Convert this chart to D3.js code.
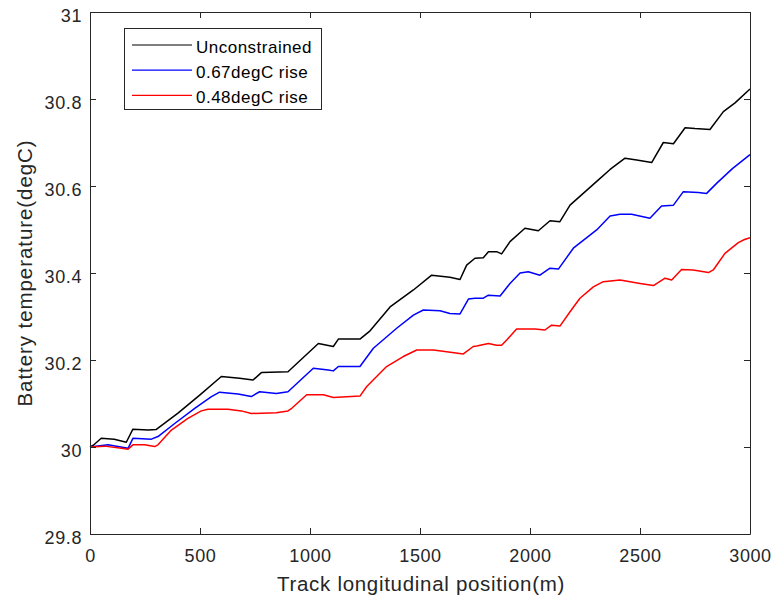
<!DOCTYPE html>
<html><head><meta charset="utf-8">
<script src="https://cdn.jsdelivr.net/npm/d3@7"></script>
<style>body{margin:0;background:#fff}svg{display:block}</style>
</head><body><svg id="c" width="775" height="601"></svg>
<script>
const xTicks=[0,500,1000,1500,2000,2500,3000];
const yTicks=[29.8,30,30.2,30.4,30.6,30.8,31];
const seriesNames=["Unconstrained","0.67degC rise","0.48degC rise"];
const seriesColors=["#000000","#0000ff","#ff0000"];
const posUnc=[0,15,51,110,165,195,264,300,400,500,597,680,741,779,900,1038,1106,1129,1227,1273,1364,1470,1553,1636,1682,1712,1750,1788,1811,1848,1871,1909,1977,2038,2091,2136,2182,2311,2364,2432,2485,2553,2606,2652,2705,2750,2818,2879,2932,3000];
const tempUnc=[30.0,30.004,30.02,30.018,30.011,30.041,30.039,30.04,30.078,30.12,30.162,30.158,30.154,30.171,30.173,30.238,30.231,30.248,30.248,30.267,30.322,30.361,30.395,30.39,30.385,30.418,30.434,30.435,30.449,30.449,30.444,30.472,30.503,30.497,30.52,30.518,30.556,30.614,30.638,30.664,30.66,30.654,30.7,30.697,30.734,30.732,30.73,30.771,30.791,30.823];
const posB=[0,82,173,195,279,309,385,476,552,589,673,733,771,847,900,1015,1083,1106,1129,1227,1288,1394,1470,1515,1591,1636,1682,1720,1750,1788,1811,1864,1909,1955,1992,2045,2091,2129,2197,2303,2364,2409,2462,2545,2598,2652,2697,2765,2803,2848,2920,3000];
const tempB=[30.0,30.005,29.997,30.02,30.018,30.024,30.054,30.089,30.116,30.126,30.122,30.116,30.127,30.123,30.127,30.181,30.177,30.175,30.185,30.185,30.227,30.273,30.303,30.315,30.313,30.307,30.306,30.34,30.342,30.342,30.349,30.347,30.376,30.4,30.403,30.395,30.411,30.409,30.457,30.499,30.531,30.535,30.535,30.526,30.554,30.556,30.587,30.585,30.583,30.606,30.64,30.672];
const posR=[0,67,143,173,195,248,294,309,370,445,506,536,627,688,733,847,900,917,985,1061,1106,1227,1258,1348,1424,1485,1561,1621,1697,1742,1758,1811,1848,1871,1894,1939,2023,2068,2098,2136,2182,2227,2288,2333,2409,2455,2500,2561,2614,2644,2689,2742,2811,2833,2886,2947,2975,3000];
const tempR=[30.0,30.002,29.997,29.995,30.005,30.005,30.001,30.005,30.039,30.066,30.083,30.087,30.087,30.083,30.077,30.079,30.083,30.089,30.12,30.12,30.114,30.117,30.139,30.185,30.208,30.223,30.223,30.219,30.214,30.231,30.232,30.238,30.234,30.234,30.246,30.271,30.271,30.269,30.28,30.278,30.311,30.342,30.368,30.38,30.384,30.38,30.376,30.371,30.388,30.384,30.408,30.407,30.401,30.407,30.445,30.47,30.477,30.481];

const svg=d3.select("#c");
const L=90,R=750,T=12,B=534;
const x=d3.scaleLinear().domain([0,3000]).range([L,R]);
const y=d3.scaleLinear().domain([29.8,31]).range([B,T]);
const ax="#262626", font="'Liberation Sans',Arial,Helvetica,sans-serif";

function fit(sel,target){const n=sel.text().length;const w=sel.node().getComputedTextLength();
  sel.attr("letter-spacing",((target-w)/n).toFixed(2));}

svg.append("rect").attr("x",L).attr("y",T).attr("width",R-L).attr("height",B-T).attr("fill","#fff");

const lineGen=d3.line().x(d=>x(d[0])).y(d=>y(d[1]));
const data=[d3.zip(posUnc,tempUnc),d3.zip(posB,tempB),d3.zip(posR,tempR)];
data.forEach((d,i)=>{
  svg.append("path").datum(d).attr("d",lineGen).attr("fill","none")
    .attr("stroke",seriesColors[i]).attr("stroke-width",1.5).attr("stroke-linejoin","round");
});

function styleAxis(g){g.select(".domain").attr("stroke",ax);g.selectAll(".tick line").attr("stroke",ax);
  g.selectAll("text").attr("fill",ax).attr("font-family",font).attr("font-size",18).attr("letter-spacing",0.6);}
svg.append("g").attr("transform",`translate(0,${B})`).call(d3.axisBottom(x).tickValues(xTicks).tickFormat(d3.format("d")).tickSizeInner(-6).tickSizeOuter(0).tickPadding(15)).call(styleAxis);
svg.append("g").attr("transform",`translate(0,${T})`).call(d3.axisTop(x).tickValues(xTicks).tickFormat("").tickSizeInner(-6).tickSizeOuter(0)).call(styleAxis);
const yg=svg.append("g").attr("transform",`translate(${L},0)`).call(d3.axisLeft(y).tickValues(yTicks).tickFormat(d=>d3.format("")(+d.toFixed(1))).tickSizeInner(-6).tickSizeOuter(0).tickPadding(8)).call(styleAxis);
yg.selectAll("text").attr("dy","0.5em");
svg.append("g").attr("transform",`translate(${R},0)`).call(d3.axisRight(y).tickValues(yTicks).tickFormat("").tickSizeInner(-6).tickSizeOuter(0)).call(styleAxis);

const xl=svg.append("text").attr("x",421).attr("y",591).attr("text-anchor","middle").attr("fill",ax)
  .attr("font-family",font).attr("font-size",20.5).text("Track longitudinal position(m)");
fit(xl,288);
const yl=svg.append("text").attr("transform",`translate(32,${(T+B)/2}) rotate(-90)`).attr("text-anchor","middle").attr("fill",ax)
  .attr("font-family",font).attr("font-size",20.5).text("Battery temperature(degC)");
fit(yl,267);

const lg=svg.append("g");
lg.append("rect").attr("x",124.5).attr("y",28.5).attr("width",197).attr("height",81).attr("fill","#fff").attr("stroke",ax).attr("stroke-width",1);
seriesNames.forEach((n,i)=>{
  const yy=45+i*25.2;
  lg.append("line").attr("x1",132).attr("x2",192).attr("y1",yy).attr("y2",yy).attr("stroke",seriesColors[i]).attr("stroke-width",1.2);
  const t=lg.append("text").attr("x",196).attr("y",yy+7.8).attr("fill","#000").attr("font-family",font).attr("font-size",17).text(n);
  if(i===0) fit(t,116); else t.attr("letter-spacing",lg.select("text").attr("letter-spacing"));
});
</script></body></html>
